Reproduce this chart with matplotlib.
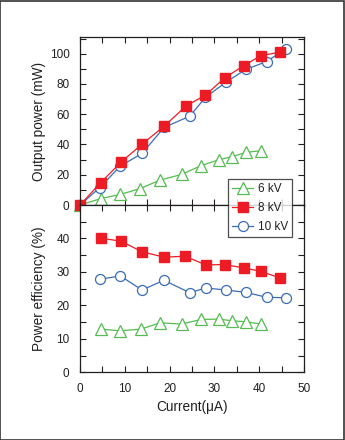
import matplotlib
matplotlib.use("Agg")
import matplotlib.pyplot as plt
from matplotlib.ticker import MultipleLocator
from matplotlib.patches import Rectangle

plt.rcParams['font.family'] = ['Liberation Sans', 'DejaVu Sans']

# Output power data
i6_p = [0, 4.6, 9.0, 13.4, 17.9, 22.7, 27.0, 31.0, 33.9, 37.1, 40.5]
p6 = [0, 4.2, 7.0, 10.8, 16.5, 20.2, 26.0, 29.9, 31.9, 34.8, 35.9]
i8_p = [0, 4.6, 9.1, 13.9, 18.8, 23.7, 28.0, 32.3, 36.5, 40.3, 44.6]
p8 = [0, 14.7, 28.2, 40.3, 52.1, 65.5, 72.6, 84.0, 92.0, 98.6, 101.0]
i10_p = [0, 4.4, 9.0, 13.85, 18.8, 24.5, 28.0, 32.5, 37.0, 41.7, 45.9]
p10 = [0, 11.4, 25.7, 34.1, 51.3, 58.7, 71.1, 81.0, 89.6, 94.8, 103.4]

# Power efficiency data
i6_e = [4.6, 9.0, 13.6, 17.9, 22.7, 27.0, 31.0, 33.9, 37.1, 40.5]
e6 = [12.9, 12.4, 12.9, 14.8, 14.4, 15.8, 15.9, 15.4, 15.1, 14.4]
i8_e = [4.6, 9.1, 13.9, 18.8, 23.4, 28.1, 32.3, 36.5, 40.3, 44.6]
e8 = [40.1, 39.2, 36.0, 34.4, 34.7, 32.1, 32.2, 31.2, 30.2, 28.2]
i10_e = [4.4, 9.0, 13.85, 18.7, 24.5, 28.1, 32.5, 37.0, 41.7, 45.9]
e10 = [27.8, 28.8, 24.6, 27.5, 23.8, 25.2, 24.6, 23.9, 22.4, 22.3]

labels = ['6 kV', '8 kV', '10 kV']
green = '#55bb52'
red = '#ed1c24'
blue = '#3b6db5'
txt = '#231f20'

fig = plt.figure(figsize=(3.45, 4.40), dpi=100)
W, H = 345, 440
ax1 = fig.add_axes([80 / W, 1 - 205 / H, 224 / W, 168 / H])
ax2 = fig.add_axes([80 / W, 1 - 372.3 / H, 224 / W, 167.3 / H])

st6 = dict(color=green, marker='^', markersize=9, markerfacecolor='white',
           markeredgecolor=green, markeredgewidth=0.9, lw=0.9, clip_on=False)
st8 = dict(color=red, marker='s', markersize=7.6, markerfacecolor=red,
           markeredgecolor=red, lw=0.9, clip_on=False)
st10 = dict(color=blue, marker='o', markersize=7.2, markerfacecolor='white',
            markeredgecolor=blue, markeredgewidth=0.9, lw=0.9, clip_on=False)

h6, = ax1.plot(i6_p, p6, **st6)
ax1.plot(i10_p, p10, **st10)
ax1.plot(i8_p, p8, **st8)
h8, = ax2.plot(i8_e, e8, **st8)
h10, = ax2.plot(i10_e, e10, **st10)
ax2.plot(i6_e, e6, **st6)

for ax in (ax1, ax2):
    ax.set_xlim(0, 50)
    ax.xaxis.set_major_locator(MultipleLocator(10))
    ax.xaxis.set_minor_locator(MultipleLocator(5))
    ax.tick_params(which='both', direction='in', top=True, right=True,
                   labelsize=8.5, colors=txt, width=0.8, length=4)
    ax.tick_params(axis='y', pad=7.5)
    for s in ax.spines.values():
        s.set_linewidth(0.9)
        s.set_color(txt)

ax1.set_ylim(0, 111)
ax1.yaxis.set_major_locator(MultipleLocator(20))
ax1.yaxis.set_minor_locator(MultipleLocator(10))
ax1.tick_params(labelbottom=False)
ax1.set_ylabel('Output power (mW)', fontsize=9.8, color=txt)

ax2.set_ylim(0, 50)
ax2.set_yticks([0, 10, 20, 30, 40])
ax2.yaxis.set_minor_locator(MultipleLocator(5))
ax2.set_ylabel('Power efficiency (%)', fontsize=9.8, color=txt)
ax2.set_xlabel('Current(\u03bcA)', fontsize=9.8, color=txt, labelpad=3)
ax2.tick_params(axis='x', pad=8)

ax1.yaxis.set_label_coords(-0.15, 0.5)
ax2.yaxis.set_label_coords(-0.15, 0.5)

leg = fig.legend([h6, h8, h10], labels, loc='upper left',
                 bbox_to_anchor=(228 / W, 1 - 179 / H), fontsize=8.5,
                 frameon=True, fancybox=False, edgecolor=txt,
                 handlelength=1.8, borderpad=0.35, labelspacing=0.6,
                 handletextpad=0.4, borderaxespad=0)
leg.get_frame().set_linewidth(0.9)
for t in leg.get_texts():
    t.set_color(txt)

fig.patches.append(Rectangle((0.001, 0.001), 0.997, 0.997, transform=fig.transFigure,
                             fill=False, edgecolor='#333333', linewidth=1.2))

fig.savefig('out.png', dpi=100)
